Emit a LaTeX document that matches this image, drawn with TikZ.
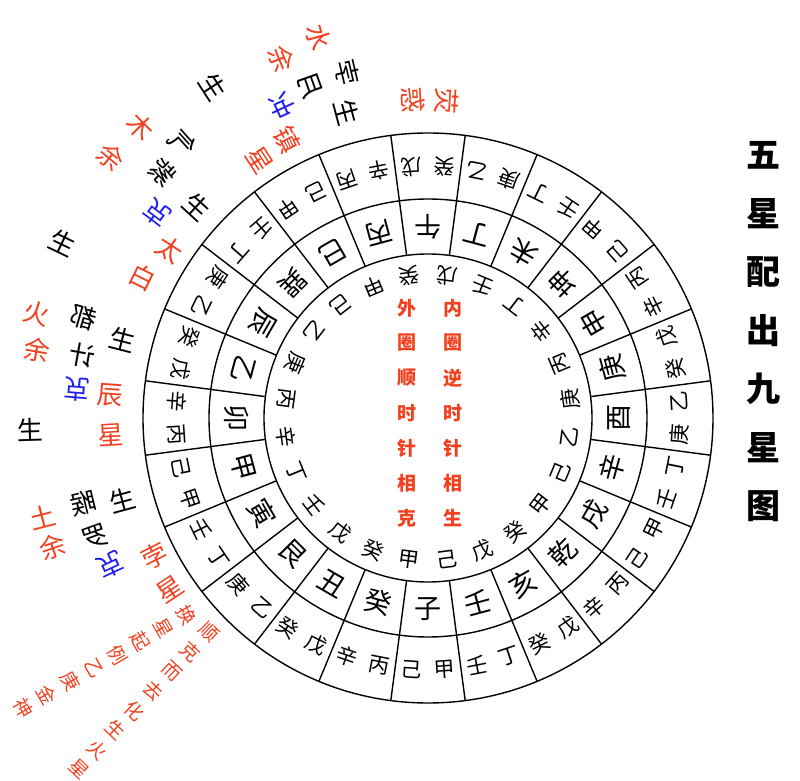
\documentclass[tikz,border=0pt]{standalone}
\usepackage{fontspec}
\setmainfont{Noto Sans CJK SC}
\definecolor{starRed}{HTML}{F2401E}
\definecolor{clashBlue}{HTML}{1E1EF0}
\tikzset{
	ringch/.style={font=\fontsize{21}{21}\selectfont, inner sep=0pt},
	mtnch/.style={font=\fontsize{27}{27}\selectfont, inner sep=0pt},
	lbl/.style={font=\fontsize{26}{26}\selectfont, inner sep=0pt},
	rule/.style={font=\fontsize{19}{19}\selectfont, inner sep=0pt, text=starRed},
	ctr/.style={font=\fontsize{19}{19}\selectfont\bfseries, inner sep=0pt, text=starRed},
	ttl/.style={font=\fontsize{34}{34}\selectfont\bfseries, inner sep=0pt}
}
% one glyph outside the rings: angle, radius, text
\newcommand{\sch}[4][]{\node[lbl,rotate=#2-180,#1] at (#2:#3) {#4};}

\begin{document}
\begin{tikzpicture}[x=1pt,y=1pt,line width=1.4pt]
	\useasboundingbox (-428,418) rectangle (372,-363);
	% rings
	\draw (0,0) circle (164) circle (219) circle (285);
	\foreach \k in {0,...,23}
		\draw (7.5+15*\k:164) -- (7.5+15*\k:285);
	% mountains
	\foreach \m [count=\i from 0] in {午,丁,未,坤,申,庚,酉,辛,戌,乾,亥,壬,子,癸,丑,艮,寅,甲,卯,乙,辰,巽,巳,丙}
		\node[mtnch, rotate=180-15*\i] (m\i) at (90-15*\i:191) {\m};
	% outer ring, clockwise
	\foreach \a/\b [count=\i from 0] in {戊/癸,乙/庚,丁/壬,甲/己,丙/辛,戊/癸,乙/庚,丁/壬,甲/己,丙/辛,戊/癸,丁/壬,
		甲/己,丙/辛,戊/癸,乙/庚,丁/壬,甲/己,丙/辛,戊/癸,乙/庚,丁/壬,甲/己,丙/辛}{
		\node[ringch, rotate=183.8-15*\i] (oa\i) at (93.8-15*\i:252) {\a};
		\node[ringch, rotate=176.2-15*\i] (ob\i) at (86.2-15*\i:252) {\b};
	}
	% inner ring, counter-clockwise
	\foreach \c [count=\i from 0] in {戊,癸,甲,己,乙,庚,丙,辛,丁,壬,戊,癸,甲,己,戊,癸,甲,己,乙,庚,丙,辛,丁,壬}
		\node[ringch, rotate=172.5+15*\i] (in\i) at (82.5+15*\i:143) {\c};
	% centre
	\foreach \c [count=\i from 0] in {内,圈,逆,时,针,相,生}
		\node[ctr] (cn\i) at (25,110-35*\i) {\c};
	\foreach \c [count=\i from 0] in {外,圈,顺,时,针,相,克}
		\node[ctr] (cw\i) at (-21,110-35*\i) {\c};
	% title
	\foreach \c [count=\i from 0] in {五,星,配,出,九,星,图}
		\node[ttl] (t\i) at (335,263-58.5*\i) {\c};
	% stars round the rings
	\sch[text=starRed]{86.6}{318}{荧}
	\sch[text=starRed]{92.7}{318}{惑}
	\sch[text=starRed]{106.1}{396}{水}
	\sch[text=starRed]{112.1}{388}{余}
	\sch[xscale=-1]{103.2}{355}{孛}
	\sch[xscale=-1]{109.5}{353}{月}
	\sch{104.9}{316}{生}
	\sch[text=clashBlue,yscale=-1]{115}{345}{冲}
	\sch[text=starRed]{116.9}{312}{镇}
	\sch[text=starRed]{123.1}{308}{星}
	\sch{123}{395}{生}
	\sch[text=starRed]{134.7}{409}{木}
	\sch[text=starRed]{140.6}{411}{余}
	\sch[xscale=-1]{131.8}{369}{气}
	\sch[xscale=-1]{137.2}{361}{紫}
	\sch{137.6}{313}{生}
	\sch[text=clashBlue,yscale=-1]{142.9}{340}{克}
	\sch[text=starRed]{146.9}{308}{太}
	\sch[text=starRed]{153.7}{318}{白}
	\sch{154.4}{405}{生}
	\sch[text=starRed]{165}{405}{火}
	\sch[text=starRed]{170.1}{397}{余}
	\sch[xscale=-1]{163.8}{359}{都}
	\sch[xscale=-1]{169.7}{351}{计}
	\sch{165.7}{315}{生}
	\sch[text=clashBlue,yscale=-1]{175.4}{352}{克}
	\sch[text=starRed]{175.9}{319}{辰}
	\sch[text=starRed]{183.1}{318}{星}
	\sch{181.7}{398}{生}
	\sch[text=starRed]{194.4}{398}{土}
	\sch[text=starRed]{199}{397}{余}
	\sch[xscale=-1]{193.8}{355}{睺}
	\sch[xscale=-1]{199.7}{354}{罗}
	\sch{195}{316}{生}
	\sch[text=clashBlue,yscale=-1]{204.8}{350}{克}
	\sch[text=starRed]{206.8}{306}{孛}
	\sch[text=starRed]{213.6}{310}{星}
	% the two rules, running outward
	\foreach \c [count=\i from 0] in {换,星,起,例,乙,庚,金,神}
		\node[rule, rotate=-60] (ra\i) at (-241-23.3*\i,-197-13.3*\i) {\c};
	\foreach \c [count=\i from 0] in {顺,克,而,去,化,生,火,星}
		\node[rule, rotate=-43.5] (rb\i) at (-219-18.6*\i,-214-19.6*\i) {\c};
\end{tikzpicture}
\end{document}
